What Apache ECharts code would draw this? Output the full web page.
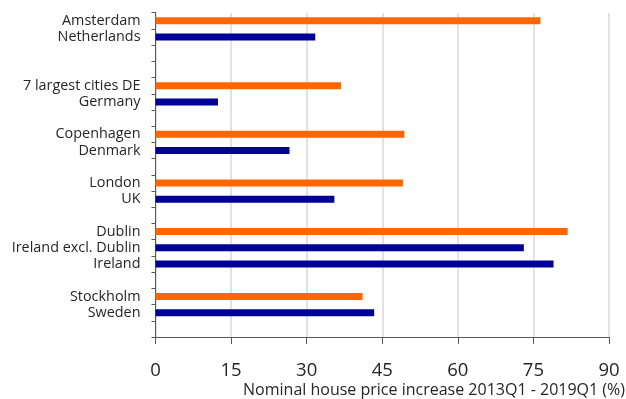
<!DOCTYPE html>
<html>
<head>
    <meta charset="utf-8">
    <title>Nominal house price increase 2013Q1 - 2019Q1</title>
    <script src="https://cdn.jsdelivr.net/npm/echarts@6.0.0/dist/echarts.min.js"></script>
    <style>
        body {
            margin: 0;
            padding: 0;
            background-color: #ffffff;
        }
        #chart {
            width: 626px;
            height: 399px;
        }
    </style>
</head>
<body>
    <div id="chart"></div>

    <script>
        // empty strings are the gaps between country groups
        var categories = [
            'Amsterdam', 'Netherlands', '', '',
            '7 largest cities DE', 'Germany', '',
            'Copenhagen', 'Denmark', '',
            'London', 'UK', '',
            'Dublin', 'Ireland excl. Dublin', 'Ireland', '',
            'Stockholm', 'Sweden', ''
        ];
        var cityValues = [
            76.4, null, null, null,
            36.8, null, null,
            49.4, null, null,
            49.1, null, null,
            81.8, null, null, null,
            41.1, null, null
        ];
        var countryValues = [
            null, 31.7, null, null,
            null, 12.4, null,
            null, 26.6, null,
            null, 35.5, null,
            null, 73.1, 79.0, null,
            null, 43.4, null
        ];
        var xTicks = { min: 0, max: 90, interval: 15 };

        var chart = echarts.init(document.getElementById('chart'));

        var option = {
            animation: false,
            title: {
                text: 'Nominal house price increase 2013Q1 - 2019Q1 (%)',
                right: 1,
                top: 382,
                padding: 0,
                textStyle: {
                    fontFamily: 'Open Sans',
                    fontSize: 16,
                    fontWeight: 'normal',
                    color: '#262626'
                }
            },
            grid: {
                left: 155.5,
                right: 17,
                top: 12.7,
                bottom: 62
            },
            xAxis: {
                type: 'value',
                min: xTicks.min,
                max: xTicks.max,
                interval: xTicks.interval,
                axisLine: {
                    show: true,
                    lineStyle: { color: '#595959', width: 1 }
                },
                axisTick: {
                    show: true,
                    length: 7,
                    lineStyle: { color: '#595959' }
                },
                axisLabel: {
                    fontFamily: 'Open Sans',
                    fontSize: 18.5,
                    color: '#262626',
                    margin: 24
                },
                splitLine: {
                    show: true,
                    lineStyle: { color: '#d9d9d9', width: 1.5 }
                }
            },
            yAxis: {
                type: 'category',
                inverse: true,
                data: categories,
                axisLine: {
                    show: true,
                    lineStyle: { color: '#595959', width: 1 }
                },
                axisTick: {
                    show: true,
                    length: 4,
                    interval: 0,
                    lineStyle: { color: '#595959' }
                },
                axisLabel: {
                    interval: 0,
                    fontFamily: 'Open Sans',
                    fontSize: 14.4,
                    color: '#262626',
                    margin: 15
                }
            },
            series: [
                {
                    name: 'City',
                    type: 'bar',
                    data: cityValues,
                    barWidth: 7,
                    barGap: '-100%',
                    itemStyle: { color: '#ff6600' }
                },
                {
                    name: 'Country',
                    type: 'bar',
                    data: countryValues,
                    barWidth: 7,
                    itemStyle: { color: '#000099' }
                }
            ]
        };

        chart.setOption(option);
    </script>
</body>
</html>
